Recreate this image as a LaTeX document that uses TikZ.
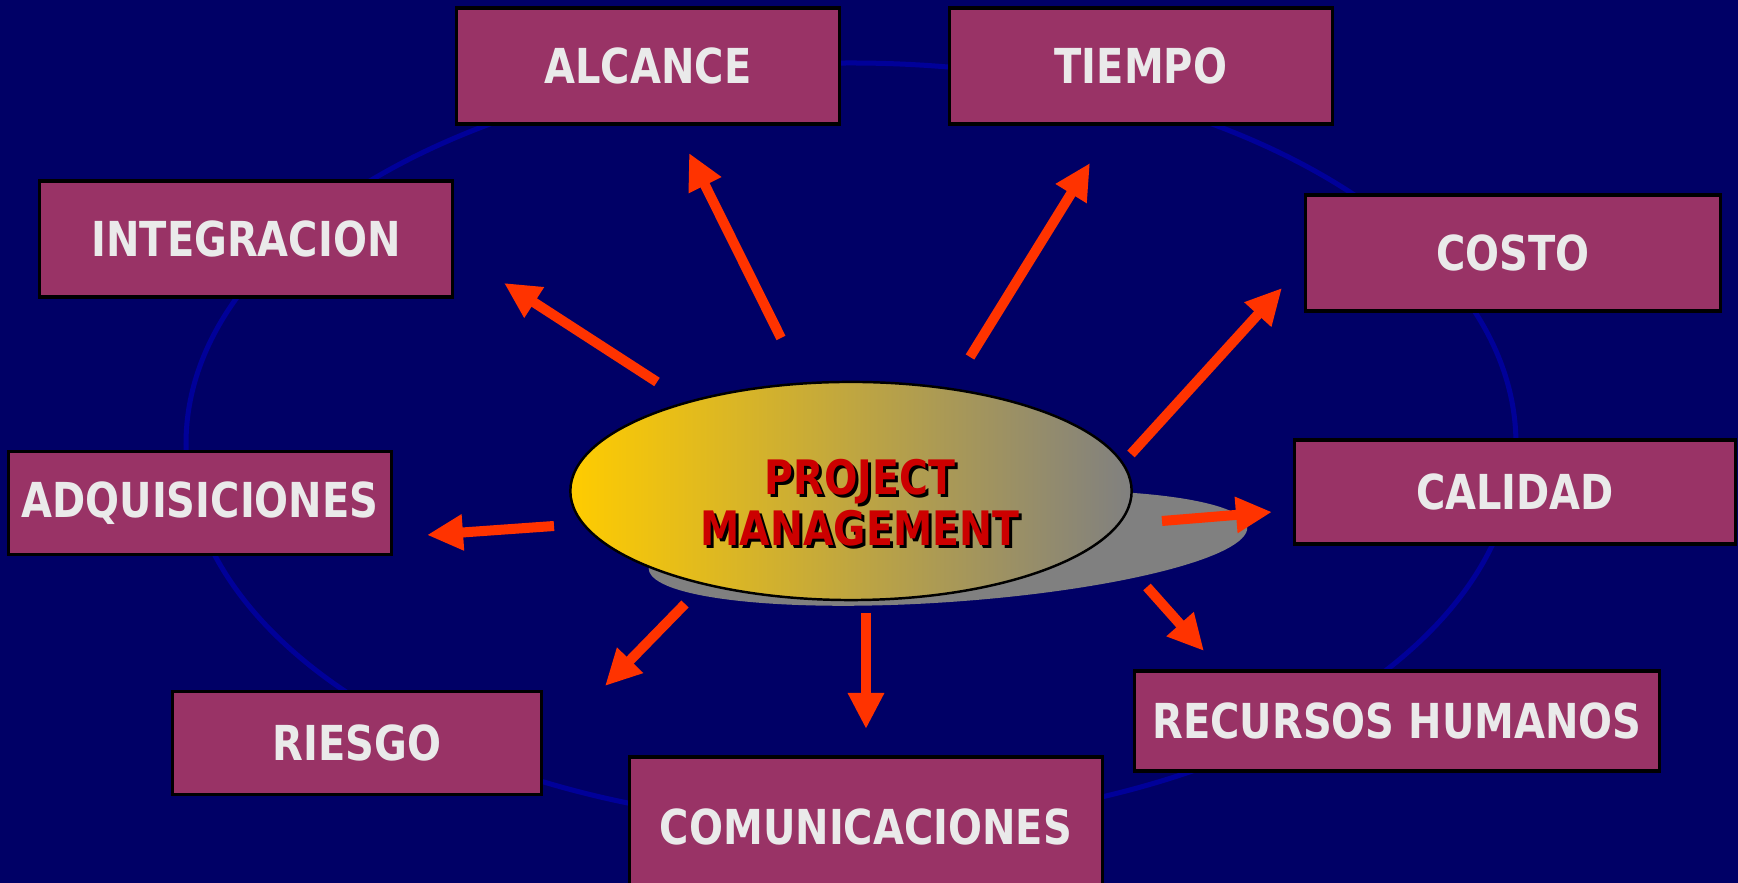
\documentclass[tikz,border=0pt]{standalone}
\usepackage{fontspec}
\setmainfont{DejaVu Sans}[FakeStretch=0.83]
\usetikzlibrary{shapes.geometric, arrows.meta, positioning}
\definecolor{slidenavy}{HTML}{000066}
\definecolor{ringblue}{HTML}{000099}
\definecolor{areapurple}{HTML}{993366}
\definecolor{arrowred}{HTML}{FF3300}
\definecolor{pmred}{HTML}{CC0000}
\definecolor{pmyellow}{HTML}{FFCC00}
\definecolor{pmtan}{HTML}{D2AE64}
\definecolor{pmgray}{HTML}{808080}
\definecolor{labelgray}{HTML}{EAEAEA}

\tikzset{
  area/.style={draw=black, line width=0.9pt, fill=areapurple, text=labelgray, font=\fontsize{13.7}{16}\selectfont\bfseries, minimum height=1.16cm, inner sep=0pt},
  pmtext/.style={align=center, font=\fontsize{13.5}{14.5}\selectfont\bfseries},
  pmarrow/.style={arrowred, line width=0.1cm, -{Triangle[length=0.36cm, width=0.34cm]}},
}

\begin{document}
\begin{tikzpicture}[x=0.01cm, y=-0.01cm]
  \useasboundingbox (0,0) rectangle (1738,883);
  \fill[slidenavy] (0,0) rectangle (1738,883);

  % ring behind the areas
  \draw[ringblue, line width=0.05cm] (851,444) ellipse [x radius=665, y radius=381];

  % knowledge areas
  \node[area, minimum width=3.82cm] (alcance) at (648,66) {ALCANCE};
  \node[area, minimum width=3.82cm] (tiempo) at (1141,66) {TIEMPO};
  \node[area, minimum width=4.13cm] (integracion) at (246,239) {INTEGRACION};
  \node[area, minimum width=4.15cm] (costo) at (1513,253) {COSTO};
  \node[area, minimum width=4.41cm, minimum height=1.04cm] (calidad) at (1515,492) {CALIDAD};
  \node[area, minimum width=3.83cm, minimum height=1.03cm] (adquisiciones) at (200,503) {ADQUISICIONES};
  \node[area, minimum width=3.68cm, minimum height=1.03cm] (riesgo) at (357,743) {RIESGO};
  \node[area, minimum width=5.24cm, minimum height=1.0cm] (recursos) at (1397,721) {RECURSOS HUMANOS};
  \node[area, minimum width=4.72cm, minimum height=1.4cm] (comunicaciones) at (866,827) {COMUNICACIONES};

  % center
  \fill[pmgray] (948,548) ellipse [x radius=300, y radius=54, rotate=4];
  \node[ellipse, draw=black, line width=0.7pt, minimum width=5.61cm, minimum height=2.18cm, inner sep=0pt, left color=pmyellow, middle color=pmtan, right color=pmgray] (pm) at (851,491) {};
  \node[pmtext, text=black] (pmshadow) at (863,506) {PROJECT\\MANAGEMENT};
  \node[pmtext, text=pmred] (pmlabel) at (860,503) {PROJECT\\MANAGEMENT};

  % arrow ends
  \coordinate (integracion-from) at (657,382);
  \coordinate (integracion-to) at (504,283);
  \coordinate (alcance-from) at (781,338);
  \coordinate (alcance-to) at (689,153);
  \coordinate (tiempo-from) at (970,357);
  \coordinate (tiempo-to) at (1090,163);
  \coordinate (costo-from) at (1131,454);
  \coordinate (costo-to) at (1282,288);
  \coordinate (calidad-from) at (1162,521);
  \coordinate (calidad-to) at (1272,512);
  \coordinate (recursos-from) at (1147,587);
  \coordinate (recursos-to) at (1204,651);
  \coordinate (comunicaciones-from) at (866,613);
  \coordinate (comunicaciones-to) at (866,729);
  \coordinate (riesgo-from) at (685,604);
  \coordinate (riesgo-to) at (605,686);
  \coordinate (adquisiciones-from) at (554,526);
  \coordinate (adquisiciones-to) at (427,535);

  \draw[pmarrow] (integracion-from) -- (integracion-to);
  \draw[pmarrow] (alcance-from) -- (alcance-to);
  \draw[pmarrow] (tiempo-from) -- (tiempo-to);
  \draw[pmarrow] (costo-from) -- (costo-to);
  \draw[pmarrow] (calidad-from) -- (calidad-to);
  \draw[pmarrow] (recursos-from) -- (recursos-to);
  \draw[pmarrow] (comunicaciones-from) -- (comunicaciones-to);
  \draw[pmarrow] (riesgo-from) -- (riesgo-to);
  \draw[pmarrow] (adquisiciones-from) -- (adquisiciones-to);
\end{tikzpicture}
\end{document}
